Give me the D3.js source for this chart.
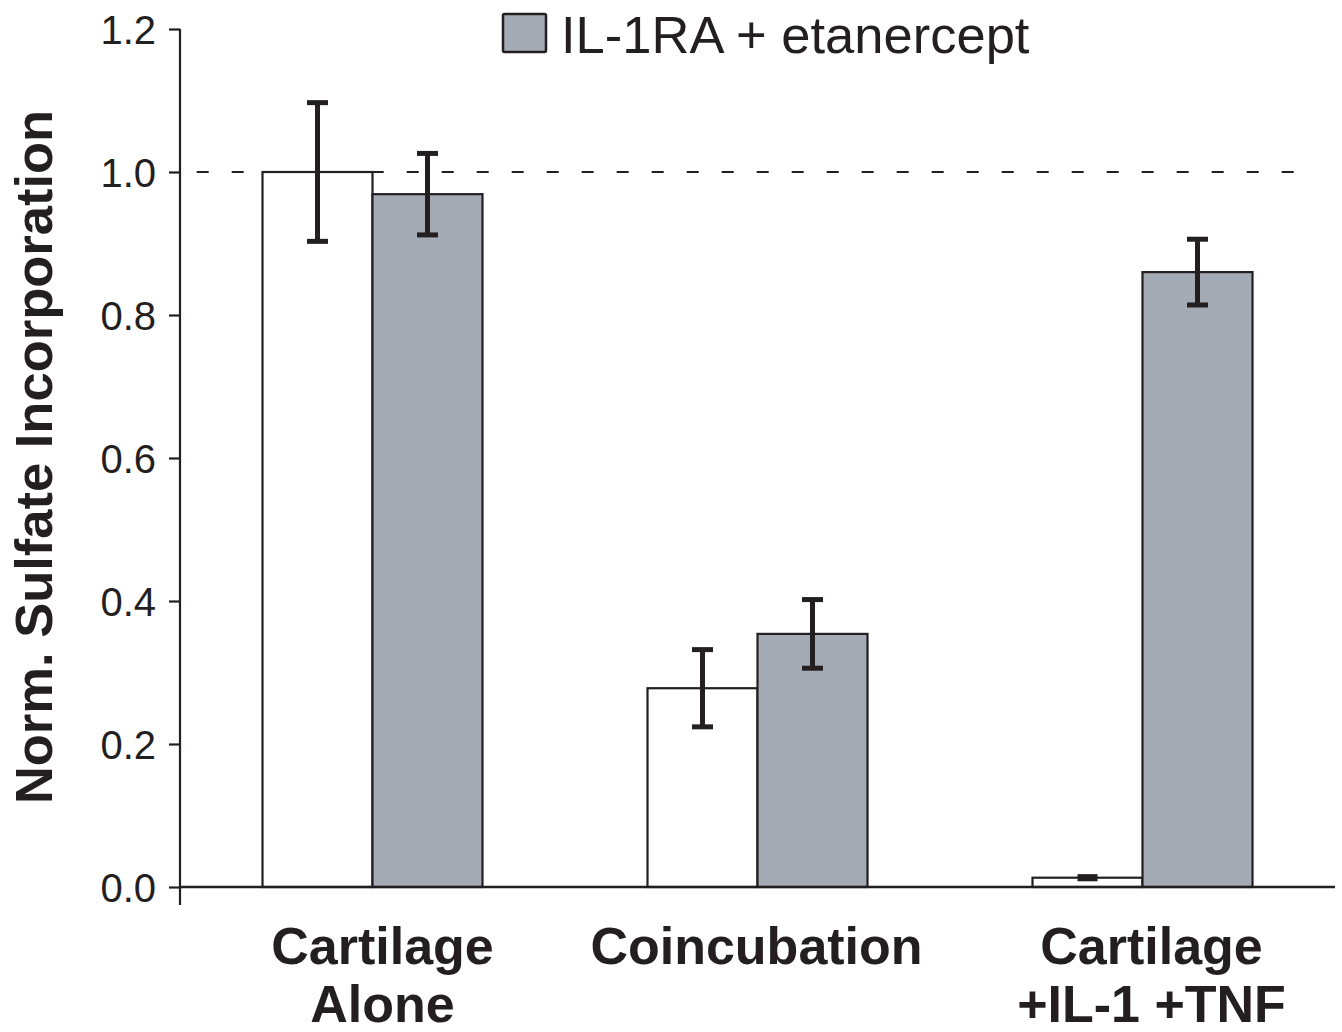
<!DOCTYPE html>
<html>
<head>
<meta charset="utf-8">
<script src="https://cdn.jsdelivr.net/npm/d3@7/dist/d3.min.js"></script>
<style>
  html, body { margin: 0; padding: 0; background: #fff; }
  svg { display: block; }
</style>
</head>
<body>
<svg id="chart" width="1342" height="1032"></svg>
<script>
const categories = [["Cartilage", "Alone"], ["Coincubation"], ["Cartilage", "+IL-1 +TNF"]];
const categoryKeys = ["alone", "coinc", "ilTnf"];
const seriesNames = ["Control", "IL-1RA + etanercept"];
const controlValues = [1.0, 0.278, 0.013];
const controlErrors = [0.097, 0.054, 0.005];
const treatedValues = [0.969, 0.354, 0.860];
const treatedErrors = [0.057, 0.048, 0.046];
const yTicks = [0.0, 0.2, 0.4, 0.6, 0.8, 1.0, 1.2];
const referenceValue = 1.0;

const ink = "#231f20";
const grayFill = "#a5abb4";
const font = "'Liberation Sans', Arial, Helvetica, sans-serif";

const svg = d3.select("#chart");
const x0 = 180, x1 = 1335;
const y = d3.scaleLinear().domain([0, 1.2]).range([887, 29]);
const xGroup = d3.scaleBand().domain(categoryKeys).range([x0, x1]).padding(0);
const barW = 110;
const xSub = d3.scaleBand().domain(seriesNames).range([-barW, barW]).padding(0);
const labelShift = [10, -1, 9];

const data = [];
categoryKeys.forEach((k, i) => {
  data.push({ key: k, series: seriesNames[0], v: controlValues[i], e: controlErrors[i], fill: "#ffffff" });
  data.push({ key: k, series: seriesNames[1], v: treatedValues[i], e: treatedErrors[i], fill: grayFill });
});
const cx = d => xGroup(d.key) + xGroup.bandwidth() / 2;

// reference dashed line
svg.append("line")
  .attr("x1", x0).attr("x2", 1294)
  .attr("y1", y(referenceValue)).attr("y2", y(referenceValue))
  .attr("stroke", ink).attr("stroke-width", 2.2)
  .attr("stroke-dasharray", "12,23").attr("stroke-dashoffset", 18.3);

// bars
svg.append("g").selectAll("rect").data(data).join("rect")
  .attr("x", d => cx(d) + xSub(d.series))
  .attr("width", xSub.bandwidth())
  .attr("y", d => y(d.v))
  .attr("height", d => y(0) - y(d.v))
  .attr("fill", d => d.fill)
  .attr("stroke", ink).attr("stroke-width", 2.2);

// error bars
const eb = svg.append("g").attr("stroke", ink).attr("stroke-width", 5);
data.forEach(d => {
  const xc = cx(d) + xSub(d.series) + xSub.bandwidth() / 2;
  const top = y(d.v + d.e), bot = y(d.v - d.e);
  if (bot - top < 12) {
    eb.append("rect").attr("x", xc - 10).attr("y", top).attr("width", 20).attr("height", bot - top)
      .attr("fill", ink).attr("stroke", "none");
  } else {
    eb.append("line").attr("x1", xc).attr("x2", xc).attr("y1", top).attr("y2", bot);
    eb.append("line").attr("x1", xc - 10.5).attr("x2", xc + 10.5).attr("y1", top).attr("y2", top);
    eb.append("line").attr("x1", xc - 10.5).attr("x2", xc + 10.5).attr("y1", bot).attr("y2", bot);
  }
});

// y axis
const yAxis = d3.axisLeft(y).tickValues(yTicks).tickFormat(d3.format(".1f")).tickSize(11).tickPadding(13);
const gy = svg.append("g").attr("transform", `translate(${x0},0)`).call(yAxis);
gy.select(".domain").remove();
gy.selectAll(".tick line").attr("stroke", ink).attr("stroke-width", 2.2);
gy.selectAll(".tick text").attr("fill", ink).style("font-family", font).style("font-size", "40px")
  .attr("dy", "0.36em");
svg.append("line").attr("x1", x0).attr("x2", x0).attr("y1", y(1.2)).attr("y2", 905)
  .attr("stroke", ink).attr("stroke-width", 2.2);

// x axis line
svg.append("line").attr("x1", x0).attr("x2", x1).attr("y1", y(0)).attr("y2", y(0))
  .attr("stroke", ink).attr("stroke-width", 2.5);

// x labels
categoryKeys.forEach((k, i) => {
  const lx = xGroup(k) + xGroup.bandwidth() / 2 + labelShift[i];
  const t = svg.append("text")
    .attr("x", lx)
    .attr("y", 964)
    .attr("text-anchor", "middle")
    .attr("fill", ink)
    .style("font-family", font).style("font-weight", "bold").style("font-size", "52px");
  categories[i].forEach((line, j) => {
    t.append("tspan").attr("x", lx).attr("dy", j === 0 ? 0 : 58).text(line);
  });
});

// y label
svg.append("text")
  .attr("transform", `translate(52,457) rotate(-90)`)
  .attr("text-anchor", "middle")
  .attr("fill", ink)
  .style("font-family", font).style("font-weight", "bold").style("font-size", "52.5px")
  .text("Norm. Sulfate Incorporation");

// legend
svg.append("rect").attr("x", 503).attr("y", 14).attr("width", 43).attr("height", 38)
  .attr("fill", grayFill).attr("stroke", ink).attr("stroke-width", 2.5).attr("rx", 1.5);
svg.append("text").attr("x", 561).attr("y", 53)
  .attr("fill", ink)
  .style("font-family", font).style("font-size", "52.5px")
  .text(seriesNames[1]);
</script>
</body>
</html>
